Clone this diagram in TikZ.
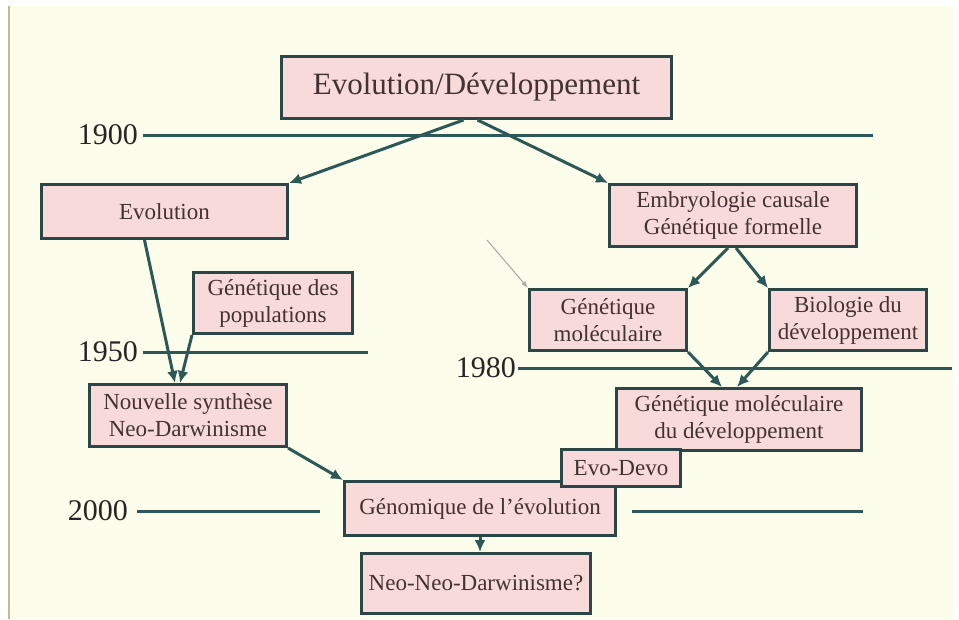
\documentclass[tikz,border=0pt]{standalone}
\usepackage{fontspec}
\setmainfont{Liberation Serif}
\usetikzlibrary{arrows.meta}
\definecolor{cream}{RGB}{253,253,235}
\definecolor{boxpink}{RGB}{249,218,218}
\definecolor{boxedge}{RGB}{42,70,70}
\definecolor{tealline}{RGB}{44,88,88}
\definecolor{txt}{RGB}{66,50,50}

\begin{document}
\begin{tikzpicture}[x=1pt,y=-1pt,
    box/.style={draw=boxedge,line width=3pt,fill=boxpink,text=txt,align=center,
      inner sep=0pt,font=\fontsize{23}{27}\selectfont},
    era/.style={draw=tealline,line width=3pt},
    year/.style={anchor=east,inner sep=0pt,text=black!85,font=\fontsize{30}{30}\selectfont},
    link/.style={draw=tealline,line width=3pt,-{Latex[length=12pt,width=11pt]}}]
      \useasboundingbox (0,0) rectangle (959,619);
      \fill[white] (0,0) rectangle (959,619);
      \fill[cream] (9,6) rectangle (953,619);
      \draw[color=black!45!olive!40,line width=2pt] (8.5,6) -- (8.5,619);
      % timeline
      \node[year] (y1900) at (138,135) {1900};
      \node[year] (y1950) at (138,352) {1950};
      \node[year] (y1980) at (516,368) {1980};
      \node[year] (y2000) at (128,511) {2000};
      \draw[era] ([xshift=5pt]y1900.east) -- (873,135);
      \draw[era] ([xshift=5pt]y1950.east) -- (368,352);
      \draw[era] ([xshift=2pt]y1980.east) -- (952,368);
      \draw[era] ([xshift=9pt]y2000.east) -- (320,511);
      \draw[era] (632,511) -- (863,511);
      % boxes
      \node[box,minimum width=390pt,minimum height=62pt,font=\fontsize{31}{31}\selectfont] (top) at (476.5,87.5) {Evolution/Développement};
      \node[box,minimum width=246pt,minimum height=54pt] (evo) at (164.5,211.5) {Evolution};
      \node[box,minimum width=247pt,minimum height=62pt] (embryo) at (733,215.5) {Embryologie causale\\Génétique formelle};
      \node[box,minimum width=159pt,minimum height=61pt] (genpop) at (273,303) {Génétique des\\populations};
      \node[box,minimum width=197pt,minimum height=62pt] (synth) at (188,415.5) {Nouvelle synthèse\\Neo-Darwinisme};
      \node[box,minimum width=157pt,minimum height=61pt] (genmol) at (608,320) {Génétique\\moléculaire};
      \node[box,minimum width=157pt,minimum height=61pt] (biodev) at (848,320) {Biologie du\\développement};
      \node[box,minimum width=245pt,minimum height=62pt] (gmdev) at (739,419.5) {Génétique moléculaire\\du développement};
      \node[box,minimum width=271pt,minimum height=54pt] (genom) at (480,508.5) {Génomique de l’évolution};
      \node[box,minimum width=119pt,minimum height=37pt] (evodevo) at (621,468) {Evo-Devo};
      \node[box,minimum width=229pt,minimum height=60pt] (neo) at (476,583.5) {Neo-Neo-Darwinisme?};
      % arrows
      \draw[link] ([xshift=-13pt]top.south) -- (evo.north east);
      \draw[link] ([xshift=1pt]top.south) -- (embryo.north west);
      \draw[link] ([xshift=-20pt]evo.south) -- ([xshift=-13pt]synth.north);
      \draw[link] (genpop.south west) -- ([xshift=-8pt]synth.north);
      \draw[link] ([xshift=-5pt]embryo.south) -- (genmol.north east);
      \draw[link] ([xshift=3pt]embryo.south) -- (biodev.north west);
      \draw[link] (genmol.south east) -- ([xshift=-17pt]gmdev.north);
      \draw[link] (biodev.south west) -- ([xshift=-2pt]gmdev.north);
      \draw[link] (synth.south east) -- (genom.north west);
      \draw[link] (genom.south) -- (genom.south |- neo.north);
      \coordinate (hint) at (487,240);
      \draw[color=gray!70,line width=1pt,-{Latex[length=7pt,width=5pt]}] (hint) -- (genmol.north west);
    \end{tikzpicture}
\end{document}
